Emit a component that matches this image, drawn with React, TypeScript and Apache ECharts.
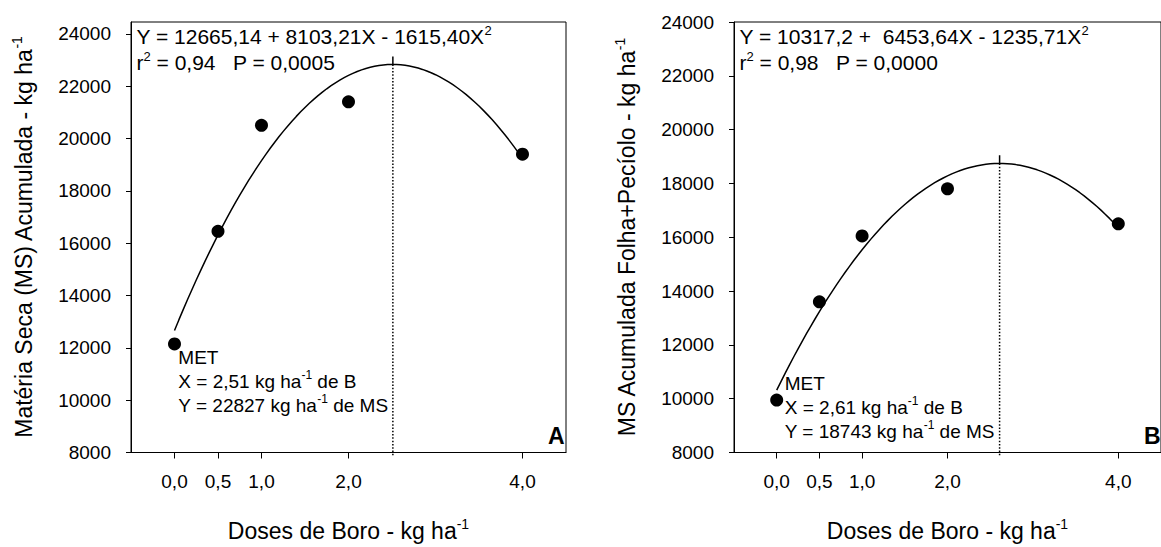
import React, { useEffect, useRef } from "react";
import * as echarts from "echarts";

// ---------- data ----------
const doses = [0, 0.5, 1, 2, 4];
const msAcumuladaA = [12150, 16450, 20500, 21400, 19400];
const msFolhaPecioloB = [9950, 13600, 16050, 17800, 16500];
// regression coefficients printed on the chart: Y = b0 + b1 X + b2 X^2
const coefA = [12665.14, 8103.21, -1615.4];
const coefB = [10317.2, 6453.64, -1235.71];
// MET (maximum efficiency) points printed on the chart
const metA = [2.51, 22827];
const metB = [2.61, 18743];
const xTicks = [0, 0.5, 1, 2, 4];
const yTicks = [8000, 10000, 12000, 14000, 16000, 18000, 20000, 22000, 24000];
const xRange = [-0.5, 4.5];
const yRangeA = [8000, 24450];
const yRangeB = [8000, 24000];

const FONT = '"Liberation Sans", Arial, Helvetica, sans-serif';

function fitCurve(c: number[]) {
  const pts: number[][] = [];
  for (let i = 0; i <= 80; i++) {
    const x = i * 0.05;
    pts.push([x, c[0] + c[1] * x + c[2] * x * x]);
  }
  return pts;
}

const supRich = (base: number, sup: number, lh: number) => ({
  t: { fontSize: base, lineHeight: lh, fontFamily: FONT, color: "#000" },
  s: { fontSize: sup, lineHeight: Math.round(sup * 1.25), verticalAlign: "top", fontFamily: FONT, color: "#000" },
  b: { fontSize: 23, fontWeight: "bold", fontFamily: FONT, color: "#000", lineHeight: 24 },
});

function xAxisCfg(gi: number) {
  return {
    gridIndex: gi,
    type: "value",
    min: xRange[0],
    max: xRange[1],
    name: "{t|Doses de Boro - kg ha}{s|-1}",
    nameLocation: "middle",
    nameGap: 64,
    nameTextStyle: { fontFamily: FONT, fontSize: 23, color: "#000", rich: supRich(23, 14, 28) },
    axisLine: { show: true, onZero: false, lineStyle: { color: "#000", width: 1 } },
    axisTick: { show: true, customValues: xTicks, length: 6, lineStyle: { color: "#000", width: 1 } },
    axisLabel: {
      customValues: xTicks,
      formatter: (v: number) => v.toFixed(1).replace(".", ","),
      fontFamily: FONT,
      fontSize: 19,
      color: "#000",
      margin: 19,
    },
    splitLine: { show: false },
  };
}

function yAxisCfg(gi: number, range: number[], title: string) {
  return {
    gridIndex: gi,
    type: "value",
    min: range[0],
    max: range[1],
    interval: 2000,
    name: title,
    nameLocation: "middle",
    nameRotate: 90,
    nameGap: 93,
    nameTextStyle: { fontFamily: FONT, fontSize: 23, color: "#000", rich: supRich(23, 14, 28) },
    axisLine: { show: true, onZero: false, lineStyle: { color: "#000", width: 1 } },
    axisTick: { show: true, customValues: yTicks, length: 5, lineStyle: { color: "#000", width: 1 } },
    axisLabel: {
      customValues: yTicks,
      formatter: (v: number) => String(v),
      fontFamily: FONT,
      fontSize: 19,
      color: "#000",
      margin: 20,
    },
    splitLine: { show: false },
  };
}

function panelSeries(
  gi: number,
  values: number[],
  coef: number[],
  met: number[],
  yRange: number[],
  eqText: string,
  metText: string,
  metAnchor: number[],
  letter: string,
  letterOffset: number[]
) {
  const common = { xAxisIndex: gi, yAxisIndex: gi };
  const textItem = (value: number[], formatter: string, align: string, vAlign: string, offset: number[]) => ({
    value,
    label: {
      show: true,
      position: [0, 0],
      align,
      verticalAlign: vAlign,
      offset,
      formatter,
      opacity: 1,
      color: "#000",
      rich: supRich(19, 12, 24),
    },
  });
  return [
    {
      ...common,
      type: "line",
      data: fitCurve(coef),
      showSymbol: false,
      symbol: "none",
      lineStyle: { color: "#000", width: 1.5, opacity: 1 },
      silent: true,
    },
    {
      ...common,
      type: "line",
      data: [
        [met[0], met[1]],
        [met[0], yRange[0] - 150],
      ],
      showSymbol: false,
      symbol: "none",
      clip: false,
      lineStyle: { color: "#000", width: 1.5, type: [1.5, 1.8], opacity: 1 },
      silent: true,
    },
    {
      ...common,
      type: "line",
      data: [
        [met[0], met[1]],
        [met[0], met[1] + 300],
      ],
      showSymbol: false,
      symbol: "none",
      lineStyle: { color: "#000", width: 1.5, opacity: 1 },
      silent: true,
    },
    {
      ...common,
      type: "scatter",
      data: doses.map((d, i) => [d, values[i]]),
      symbol: "circle",
      symbolSize: 13,
      itemStyle: { color: "#000", opacity: 1 },
    },
    {
      ...common,
      type: "scatter",
      symbolSize: 1,
      clip: false,
      silent: true,
      itemStyle: { color: "rgba(0,0,0,0)", opacity: 1 },
      data: [
        {
          value: [xRange[0], yRange[1]],
          label: {
            show: true,
            position: [0, 0],
            align: "left",
            verticalAlign: "top",
            offset: [6, 2],
            formatter: eqText,
            opacity: 1,
            color: "#000",
            rich: supRich(21, 13, 26),
          },
        },
        textItem(metAnchor, metText, "left", "top", [0, 0]),
        textItem([xRange[1], yRange[0]], `{b|${letter}}`, "right", "bottom", letterOffset),
      ],
    },
  ];
}

const option = {
  animation: false,
  backgroundColor: "#fff",
  textStyle: { fontFamily: FONT },
  grid: [
    { left: 131, top: 22, width: 435, height: 436, show: true, borderColor: "#000", borderWidth: 1, containLabel: false },
    { left: 734, top: 22, width: 437, height: 436, show: true, borderColor: "#000", borderWidth: 1, containLabel: false },
  ],
  xAxis: [xAxisCfg(0), xAxisCfg(1)],
  yAxis: [
    yAxisCfg(0, yRangeA, "{t|Matéria Seca (MS) Acumulada - kg ha}{s|-1}"),
    yAxisCfg(1, yRangeB, "{t|MS Acumulada Folha+Pecíolo - kg ha}{s|-1}"),
  ],
  series: [
    ...panelSeries(
      0,
      msAcumuladaA,
      coefA,
      metA,
      yRangeA,
      "{t|Y = 12665,14 + 8103,21X - 1615,40X}{s|2}\n{t|r}{s|2}{t| = 0,94\u00a0\u00a0\u00a0P = 0,0005}",
      "{t|MET}\n{t|X = 2,51 kg ha}{s|-1}{t| de B}\n{t|Y = 22827 kg ha}{s|-1}{t| de MS}",
      [0.05, 12075],
      "A",
      [-1, -4]
    ),
    ...panelSeries(
      1,
      msFolhaPecioloB,
      coefB,
      metB,
      yRangeB,
      "{t|Y = 10317,2 +\u00a0\u00a06453,64X - 1235,71X}{s|2}\n{t|r}{s|2}{t| = 0,98\u00a0\u00a0\u00a0P = 0,0000}",
      "{t|MET}\n{t|X = 2,61 kg ha}{s|-1}{t| de B}\n{t|Y = 18743 kg ha}{s|-1}{t| de MS}",
      [0.1, 11000],
      "B",
      [0, -4]
    ),
  ],
};

export default function App() {
  const ref = useRef<HTMLDivElement>(null);
  useEffect(() => {
    const chart = echarts.init(ref.current as HTMLDivElement, null, { renderer: "svg" });
    chart.setOption(option as any);
    return () => chart.dispose();
  }, []);
  return (
    <div
      ref={ref}
      style={{ position: "absolute", left: 0, top: 0, width: 1161, height: 547, background: "#fff" }}
    />
  );
}
